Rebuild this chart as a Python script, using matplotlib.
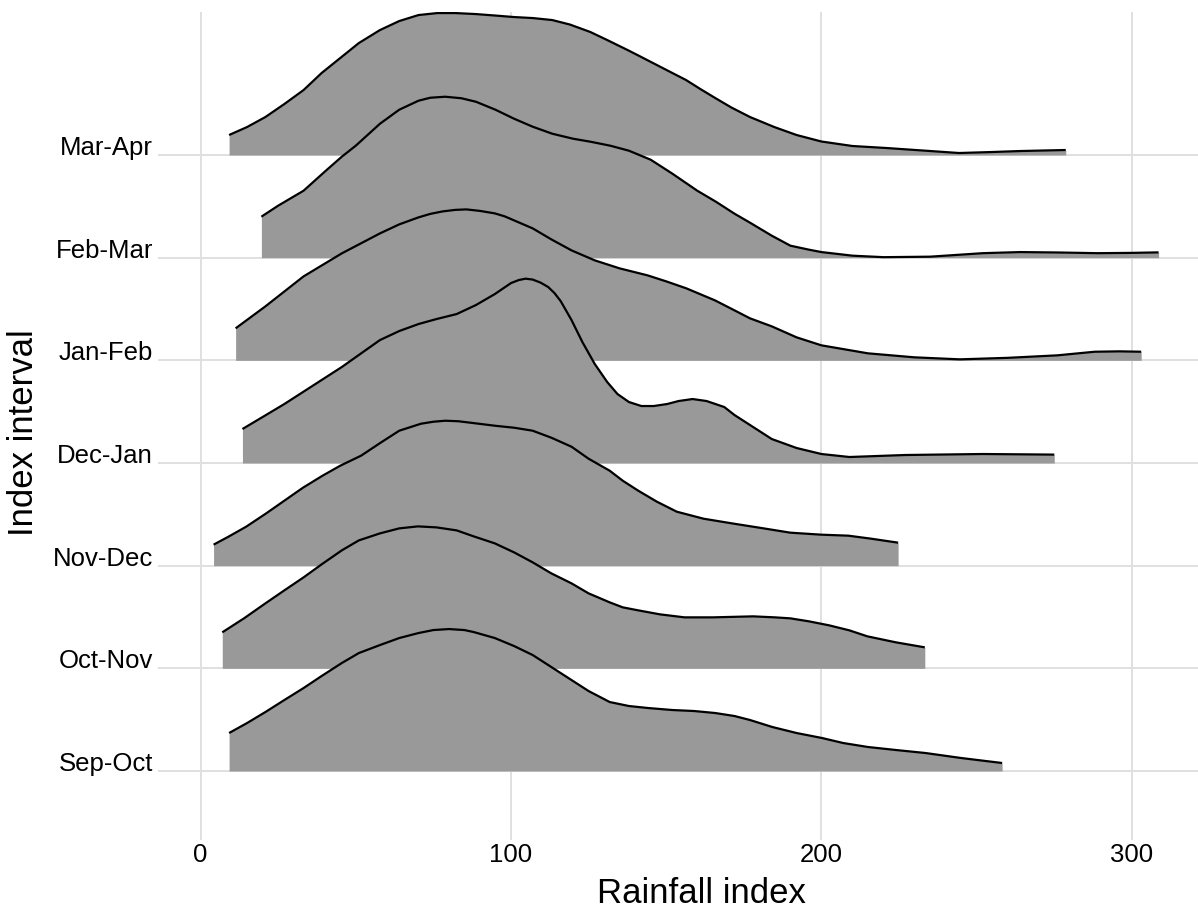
import matplotlib
matplotlib.use('Agg')
import matplotlib.pyplot as plt

plt.rcParams['font.family'] = ['Liberation Sans', 'DejaVu Sans']

labels = ['Sep-Oct', 'Oct-Nov', 'Nov-Dec', 'Dec-Jan', 'Jan-Feb', 'Feb-Mar', 'Mar-Apr']

# ridge outlines: rainfall index vs density height
sep_oct_x = [9.2, 15, 20.9, 27, 33.2, 39, 45.5, 51, 57.8, 64, 70.2, 75, 80, 85, 88, 94.8, 101, 107,
             113, 119.5, 125, 131.8, 138, 144.2, 152, 159, 165.8, 172, 177, 184.2, 192, 200.2, 207,
             215, 224, 233.5, 245, 258.2]
sep_oct_d = [38, 48, 59, 71, 83, 95, 108, 118, 126, 133, 138, 141, 142, 141, 139, 133, 125, 116,
             104, 91, 80, 69, 65, 63, 61, 60, 58, 55, 51, 44, 38, 33, 28,
             24, 21, 18, 13, 8]

oct_nov_x = [7, 14, 20.9, 27, 33.2, 39, 45.5, 51, 57.8, 64, 70, 76, 82.5, 88, 94.8, 101, 107, 113,
             119.5, 125, 131.8, 136, 141, 148, 155.9, 165, 178, 185, 190, 196, 202.5, 209, 214.8,
             224, 233.3]
oct_nov_d = [36, 50, 65, 78, 91, 104, 118, 128, 135, 140, 142, 141, 138, 132, 125, 116, 106, 95,
             85, 75, 66, 61, 58, 54, 51, 51, 52, 51, 50, 47, 43, 38, 32,
             26, 21]

nov_dec_x = [4.2, 9, 14.7, 21, 27, 33, 39.3, 45, 51.7, 58, 64, 71, 75, 78.8, 83, 87, 94.8, 101, 107,
             113, 119.5, 125, 131.8, 136, 141, 147, 153.4, 162, 171.8, 180, 190, 200, 208.7, 216,
             224.7]
nov_dec_d = [21, 29, 39, 52, 65, 78, 90, 100, 110, 123, 135, 142, 144, 145, 144.5, 143, 140, 138, 135,
             128, 119, 107, 95, 85, 75, 64, 54, 47, 42, 38, 33, 31, 30, 27,
             23]

dec_jan_x = [13.5, 20, 27, 36, 45.5, 57.8, 64, 70.2, 76, 82.5, 88.7, 94.8, 100, 102.5, 104.7, 107,
             109.5, 112, 114, 116, 119.5, 123, 127, 131, 134.3, 138, 142, 146, 150.3, 154, 158.5,
             163, 168.7, 172, 177, 184, 192, 200, 209, 227, 252, 275]
dec_jan_d = [34, 46, 59, 77, 96, 123, 132, 139, 144, 149, 158, 169, 180, 183, 184.4, 183.5,
             180.5, 176, 170, 162, 143, 121, 99, 81, 69, 61, 57, 57, 59, 62, 64,
             62, 56, 48, 38, 24, 15, 9, 6, 8, 9, 8.4]

jan_feb_x = [11.3, 20.9, 33.2, 45.5, 57.8, 64, 70.2, 74, 78, 82, 85.6, 90, 94.8, 98, 101, 107, 113,
             119.5, 127, 135, 144, 150, 156.5, 165.7, 172, 177, 184, 192, 200, 215, 230, 244.6, 260,
             276, 288, 296, 303]
jan_feb_d = [32, 54, 84, 107, 127, 136, 143, 146.5, 149, 150.5, 151, 149.5, 147, 144, 140, 132, 121,
             110, 100, 92, 85, 79, 72, 60, 50, 42, 34, 23, 15, 7, 3, 1, 2.5,
             5, 8.6, 9, 8.6]

feb_mar_x = [19.6, 25, 33.2, 40, 45.5, 50, 57.8, 64, 70.2, 74, 78.8, 84, 88.7, 95, 101, 107, 113.3,
             120, 125.6, 132, 138, 145, 152, 160, 166, 172, 177, 184, 190, 196, 200, 210, 220, 235,
             252, 264, 276, 289, 300, 308.6]
feb_mar_d = [41, 52, 67, 86, 101, 112, 134, 148, 157, 160, 161, 159.5, 156, 148, 139, 131, 124,
             119, 116, 112, 107, 98, 84, 67, 56, 44, 35, 22, 12, 8, 5.6, 2, 0.5, 1,
             4.5, 5.6, 5.2, 4.5, 4.8, 5.3]

mar_apr_x = [9.2, 15, 20.9, 27, 33.2, 39, 45.4, 51, 57.8, 64, 70.2, 76.3, 82, 88.6, 95, 101, 107,
             113.3, 119, 125.6, 131, 137.9, 142, 147, 152, 156.4, 161, 165.8, 171, 177, 184.8, 192,
             200, 210, 220.9, 235, 244.3, 255, 264.3, 278.7]
mar_apr_d = [20, 28, 38, 51, 65, 82, 98, 112, 125, 134, 140, 142, 142, 141, 139.5, 138, 137,
             135, 130.5, 123, 115, 104.5, 98, 90, 82, 75, 66, 57, 47.5, 38, 28, 20,
             13.5, 9, 7, 4, 2, 3, 4, 5]

ridges_x = [sep_oct_x, oct_nov_x, nov_dec_x, dec_jan_x, jan_feb_x, feb_mar_x, mar_apr_x]
ridges_d = [sep_oct_d, oct_nov_d, nov_dec_d, dec_jan_d, jan_feb_d, feb_mar_d, mar_apr_d]

# height scale: density units per row
scale = 1 / 102.7

fig = plt.figure(figsize=(11.98, 9.11), dpi=100)
ax = fig.add_axes([158 / 1198, 1 - 840 / 911, 1 - 158 / 1198, 828 / 911])

# top row first so lower ridges overlap the ones above
for i in reversed(range(len(labels))):
    base = i + 1
    top = [base + d * scale for d in ridges_d[i]]
    z = 10 + (len(labels) - i) * 2
    ax.fill_between(ridges_x[i], base, top, color='#999999', lw=0, zorder=z)
    ax.plot(ridges_x[i], top, color='black', lw=1.6, zorder=z + 1,
            solid_capstyle='butt', solid_joinstyle='round')

ax.set_xlim(-13.7, 321.3)
ax.set_ylim(0.328, 8.393)
ax.set_xticks([0, 100, 200, 300])
ax.set_yticks(range(1, len(labels) + 1))
ax.set_yticklabels(labels, va='baseline')
ax.tick_params(length=0, labelsize=18.5, colors='black')
ax.tick_params(axis='y', pad=3.6)
ax.tick_params(axis='x', pad=2)
ax.grid(True, color='#e0e0e0', lw=1.4)
ax.set_axisbelow(True)
for s in ax.spines.values():
    s.set_visible(False)

fig.text(701 / 1198, 1 / 911, 'Rainfall index', ha='center', va='bottom', fontsize=25)
fig.text(24 / 1198, 1 - 433 / 911, 'Index interval', ha='center', va='center',
         rotation=90, fontsize=25)

fig.savefig('out.png', dpi=100)
